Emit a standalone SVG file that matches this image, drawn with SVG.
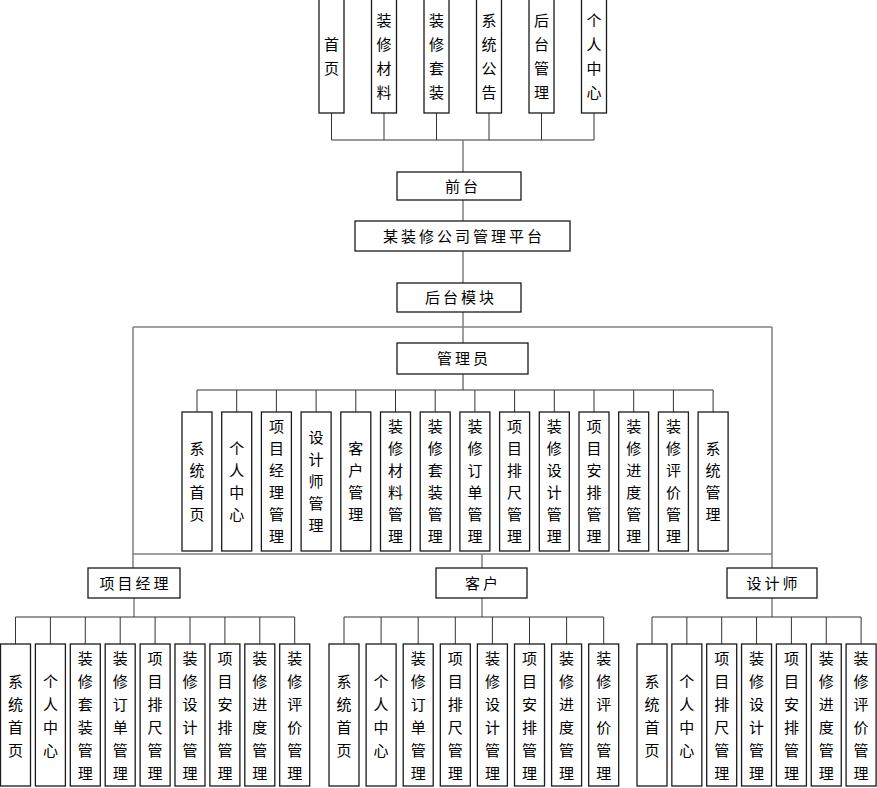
<svg xmlns="http://www.w3.org/2000/svg" width="877" height="788" viewBox="0 0 877 788">
<style>
.box{fill:#fff;stroke:#1a1a1a;stroke-width:1.3}
.t{font-family:"Noto Sans CJK SC","Noto Sans",sans-serif;font-size:15px;fill:#000;text-anchor:middle}
.h{letter-spacing:3px}
.ln{stroke:#333;fill:none;stroke-width:1}
.tr{stroke:#808080;fill:none;stroke-width:1.5}
</style>
<rect width="877" height="788" fill="#fff"/>
<g id="connectors">
<path class="ln" d="M331.5 113V140M384 113V140M436.5 113V140M489 113V140M541.5 113V140M594 113V140M331.5 140H594"/>
<path class="tr" d="M463 140V172M463 200V221M463 251V283M463 312V327M463 327V343"/>
<path class="tr" d="M133 327H772M133 327V568M772 327V568M133 554H772M482 554V568"/>
<path class="ln" d="M463 374V390M197 390H713.1M197 390V412M236.7 390V412M276.4 390V412M316.1 390V412M355.8 390V412M395.5 390V412M435.2 390V412M474.9 390V412M514.6 390V412M554.3 390V412M594 390V412M633.7 390V412M673.4 390V412M713.1 390V412"/>
<path class="tr" d="M134 598V617M482 598V617M772 598V617"/>
<path class="ln" d="M15.5 617H294.7M15.5 617V644M50.4 617V644M85.3 617V644M120.2 617V644M155.1 617V644M190 617V644M224.9 617V644M259.8 617V644M294.7 617V644"/>
<path class="ln" d="M344 617H603.7M344 617V644M381.1 617V644M418.2 617V644M455.3 617V644M492.4 617V644M529.5 617V644M566.6 617V644M603.7 617V644"/>
<path class="ln" d="M652 617H861.1M652 617V644M686.85 617V644M721.7 617V644M756.55 617V644M791.4 617V644M826.25 617V644M861.1 617V644"/>
</g>

<g id="top-shouye"><rect class="box" x="319" y="-1" width="25" height="114"/><text class="t" x="331.5" y="50"><tspan x="331.5">首</tspan><tspan x="331.5" dy="24">页</tspan></text></g>
<g id="top-cailiao"><rect class="box" x="371.5" y="-1" width="25" height="114"/><text class="t" x="384" y="26"><tspan x="384">装</tspan><tspan x="384" dy="24">修</tspan><tspan x="384" dy="24">材</tspan><tspan x="384" dy="24">料</tspan></text></g>
<g id="top-taozhuang"><rect class="box" x="424" y="-1" width="25" height="114"/><text class="t" x="436.5" y="26"><tspan x="436.5">装</tspan><tspan x="436.5" dy="24">修</tspan><tspan x="436.5" dy="24">套</tspan><tspan x="436.5" dy="24">装</tspan></text></g>
<g id="top-gonggao"><rect class="box" x="476.5" y="-1" width="25" height="114"/><text class="t" x="489" y="26"><tspan x="489">系</tspan><tspan x="489" dy="24">统</tspan><tspan x="489" dy="24">公</tspan><tspan x="489" dy="24">告</tspan></text></g>
<g id="top-houtai"><rect class="box" x="529" y="-1" width="25" height="114"/><text class="t" x="541.5" y="26"><tspan x="541.5">后</tspan><tspan x="541.5" dy="24">台</tspan><tspan x="541.5" dy="24">管</tspan><tspan x="541.5" dy="24">理</tspan></text></g>
<g id="top-geren"><rect class="box" x="581.5" y="-1" width="25" height="114"/><text class="t" x="594" y="26"><tspan x="594">个</tspan><tspan x="594" dy="24">人</tspan><tspan x="594" dy="24">中</tspan><tspan x="594" dy="24">心</tspan></text></g>

<g id="qiantai"><rect class="box" x="397" y="172" width="124" height="28"/><text class="t h" x="463" y="191.5">前台</text></g>
<g id="platform"><rect class="box" x="355" y="221" width="215" height="30"/><text class="t h" x="464" y="241.5">某装修公司管理平台</text></g>
<g id="houtaimokuai"><rect class="box" x="397" y="283" width="124" height="29"/><text class="t h" x="461" y="303">后台模块</text></g>
<g id="admin"><rect class="box" x="397" y="343" width="131" height="31"/><text class="t h" x="464" y="364">管理员</text></g>

<g id="a1"><rect class="box" x="182" y="412" width="30" height="139"/><text class="t" y="454"><tspan x="197">系</tspan><tspan x="197" dy="22">统</tspan><tspan x="197" dy="22">首</tspan><tspan x="197" dy="22">页</tspan></text></g>
<g id="a2"><rect class="box" x="221.7" y="412" width="30" height="139"/><text class="t" y="454"><tspan x="236.7">个</tspan><tspan x="236.7" dy="22">人</tspan><tspan x="236.7" dy="22">中</tspan><tspan x="236.7" dy="22">心</tspan></text></g>
<g id="a3"><rect class="box" x="261.4" y="412" width="30" height="139"/><text class="t" y="432"><tspan x="276.4">项</tspan><tspan x="276.4" dy="22">目</tspan><tspan x="276.4" dy="22">经</tspan><tspan x="276.4" dy="22">理</tspan><tspan x="276.4" dy="22">管</tspan><tspan x="276.4" dy="22">理</tspan></text></g>
<g id="a4"><rect class="box" x="301.1" y="412" width="30" height="139"/><text class="t" y="443"><tspan x="316.1">设</tspan><tspan x="316.1" dy="22">计</tspan><tspan x="316.1" dy="22">师</tspan><tspan x="316.1" dy="22">管</tspan><tspan x="316.1" dy="22">理</tspan></text></g>
<g id="a5"><rect class="box" x="340.8" y="412" width="30" height="139"/><text class="t" y="454"><tspan x="355.8">客</tspan><tspan x="355.8" dy="22">户</tspan><tspan x="355.8" dy="22">管</tspan><tspan x="355.8" dy="22">理</tspan></text></g>
<g id="a6"><rect class="box" x="380.5" y="412" width="30" height="139"/><text class="t" y="432"><tspan x="395.5">装</tspan><tspan x="395.5" dy="22">修</tspan><tspan x="395.5" dy="22">材</tspan><tspan x="395.5" dy="22">料</tspan><tspan x="395.5" dy="22">管</tspan><tspan x="395.5" dy="22">理</tspan></text></g>
<g id="a7"><rect class="box" x="420.2" y="412" width="30" height="139"/><text class="t" y="432"><tspan x="435.2">装</tspan><tspan x="435.2" dy="22">修</tspan><tspan x="435.2" dy="22">套</tspan><tspan x="435.2" dy="22">装</tspan><tspan x="435.2" dy="22">管</tspan><tspan x="435.2" dy="22">理</tspan></text></g>
<g id="a8"><rect class="box" x="459.9" y="412" width="30" height="139"/><text class="t" y="432"><tspan x="474.9">装</tspan><tspan x="474.9" dy="22">修</tspan><tspan x="474.9" dy="22">订</tspan><tspan x="474.9" dy="22">单</tspan><tspan x="474.9" dy="22">管</tspan><tspan x="474.9" dy="22">理</tspan></text></g>
<g id="a9"><rect class="box" x="499.6" y="412" width="30" height="139"/><text class="t" y="432"><tspan x="514.6">项</tspan><tspan x="514.6" dy="22">目</tspan><tspan x="514.6" dy="22">排</tspan><tspan x="514.6" dy="22">尺</tspan><tspan x="514.6" dy="22">管</tspan><tspan x="514.6" dy="22">理</tspan></text></g>
<g id="a10"><rect class="box" x="539.3" y="412" width="30" height="139"/><text class="t" y="432"><tspan x="554.3">装</tspan><tspan x="554.3" dy="22">修</tspan><tspan x="554.3" dy="22">设</tspan><tspan x="554.3" dy="22">计</tspan><tspan x="554.3" dy="22">管</tspan><tspan x="554.3" dy="22">理</tspan></text></g>
<g id="a11"><rect class="box" x="579" y="412" width="30" height="139"/><text class="t" y="432"><tspan x="594">项</tspan><tspan x="594" dy="22">目</tspan><tspan x="594" dy="22">安</tspan><tspan x="594" dy="22">排</tspan><tspan x="594" dy="22">管</tspan><tspan x="594" dy="22">理</tspan></text></g>
<g id="a12"><rect class="box" x="618.7" y="412" width="30" height="139"/><text class="t" y="432"><tspan x="633.7">装</tspan><tspan x="633.7" dy="22">修</tspan><tspan x="633.7" dy="22">进</tspan><tspan x="633.7" dy="22">度</tspan><tspan x="633.7" dy="22">管</tspan><tspan x="633.7" dy="22">理</tspan></text></g>
<g id="a13"><rect class="box" x="658.4" y="412" width="30" height="139"/><text class="t" y="432"><tspan x="673.4">装</tspan><tspan x="673.4" dy="22">修</tspan><tspan x="673.4" dy="22">评</tspan><tspan x="673.4" dy="22">价</tspan><tspan x="673.4" dy="22">管</tspan><tspan x="673.4" dy="22">理</tspan></text></g>
<g id="a14"><rect class="box" x="698.1" y="412" width="30" height="139"/><text class="t" y="454"><tspan x="713.1">系</tspan><tspan x="713.1" dy="22">统</tspan><tspan x="713.1" dy="22">管</tspan><tspan x="713.1" dy="22">理</tspan></text></g>

<g id="pm"><rect class="box" x="88" y="568" width="92" height="30"/><text class="t h" x="135.5" y="588.5">项目经理</text></g>
<g id="kehu"><rect class="box" x="436" y="568" width="91" height="30"/><text class="t h" x="483" y="588.5">客户</text></g>
<g id="designer"><rect class="box" x="727" y="568" width="90" height="30"/><text class="t h" x="773.5" y="588.5">设计师</text></g>

<g id="p1"><rect class="box" x="0.5" y="644" width="30" height="142"/><text class="t" y="686.5"><tspan x="15.5">系</tspan><tspan x="15.5" dy="23">统</tspan><tspan x="15.5" dy="23">首</tspan><tspan x="15.5" dy="23">页</tspan></text></g>
<g id="p2"><rect class="box" x="35.4" y="644" width="30" height="142"/><text class="t" y="686.5"><tspan x="50.4">个</tspan><tspan x="50.4" dy="23">人</tspan><tspan x="50.4" dy="23">中</tspan><tspan x="50.4" dy="23">心</tspan></text></g>
<g id="p3"><rect class="box" x="70.3" y="644" width="30" height="142"/><text class="t" y="663.5"><tspan x="85.3">装</tspan><tspan x="85.3" dy="23">修</tspan><tspan x="85.3" dy="23">套</tspan><tspan x="85.3" dy="23">装</tspan><tspan x="85.3" dy="23">管</tspan><tspan x="85.3" dy="23">理</tspan></text></g>
<g id="p4"><rect class="box" x="105.2" y="644" width="30" height="142"/><text class="t" y="663.5"><tspan x="120.2">装</tspan><tspan x="120.2" dy="23">修</tspan><tspan x="120.2" dy="23">订</tspan><tspan x="120.2" dy="23">单</tspan><tspan x="120.2" dy="23">管</tspan><tspan x="120.2" dy="23">理</tspan></text></g>
<g id="p5"><rect class="box" x="140.1" y="644" width="30" height="142"/><text class="t" y="663.5"><tspan x="155.1">项</tspan><tspan x="155.1" dy="23">目</tspan><tspan x="155.1" dy="23">排</tspan><tspan x="155.1" dy="23">尺</tspan><tspan x="155.1" dy="23">管</tspan><tspan x="155.1" dy="23">理</tspan></text></g>
<g id="p6"><rect class="box" x="175" y="644" width="30" height="142"/><text class="t" y="663.5"><tspan x="190">装</tspan><tspan x="190" dy="23">修</tspan><tspan x="190" dy="23">设</tspan><tspan x="190" dy="23">计</tspan><tspan x="190" dy="23">管</tspan><tspan x="190" dy="23">理</tspan></text></g>
<g id="p7"><rect class="box" x="209.9" y="644" width="30" height="142"/><text class="t" y="663.5"><tspan x="224.9">项</tspan><tspan x="224.9" dy="23">目</tspan><tspan x="224.9" dy="23">安</tspan><tspan x="224.9" dy="23">排</tspan><tspan x="224.9" dy="23">管</tspan><tspan x="224.9" dy="23">理</tspan></text></g>
<g id="p8"><rect class="box" x="244.8" y="644" width="30" height="142"/><text class="t" y="663.5"><tspan x="259.8">装</tspan><tspan x="259.8" dy="23">修</tspan><tspan x="259.8" dy="23">进</tspan><tspan x="259.8" dy="23">度</tspan><tspan x="259.8" dy="23">管</tspan><tspan x="259.8" dy="23">理</tspan></text></g>
<g id="p9"><rect class="box" x="279.7" y="644" width="30" height="142"/><text class="t" y="663.5"><tspan x="294.7">装</tspan><tspan x="294.7" dy="23">修</tspan><tspan x="294.7" dy="23">评</tspan><tspan x="294.7" dy="23">价</tspan><tspan x="294.7" dy="23">管</tspan><tspan x="294.7" dy="23">理</tspan></text></g>

<g id="c1"><rect class="box" x="329" y="644" width="30" height="142"/><text class="t" y="686.5"><tspan x="344">系</tspan><tspan x="344" dy="23">统</tspan><tspan x="344" dy="23">首</tspan><tspan x="344" dy="23">页</tspan></text></g>
<g id="c2"><rect class="box" x="366.1" y="644" width="30" height="142"/><text class="t" y="686.5"><tspan x="381.1">个</tspan><tspan x="381.1" dy="23">人</tspan><tspan x="381.1" dy="23">中</tspan><tspan x="381.1" dy="23">心</tspan></text></g>
<g id="c3"><rect class="box" x="403.2" y="644" width="30" height="142"/><text class="t" y="663.5"><tspan x="418.2">装</tspan><tspan x="418.2" dy="23">修</tspan><tspan x="418.2" dy="23">订</tspan><tspan x="418.2" dy="23">单</tspan><tspan x="418.2" dy="23">管</tspan><tspan x="418.2" dy="23">理</tspan></text></g>
<g id="c4"><rect class="box" x="440.3" y="644" width="30" height="142"/><text class="t" y="663.5"><tspan x="455.3">项</tspan><tspan x="455.3" dy="23">目</tspan><tspan x="455.3" dy="23">排</tspan><tspan x="455.3" dy="23">尺</tspan><tspan x="455.3" dy="23">管</tspan><tspan x="455.3" dy="23">理</tspan></text></g>
<g id="c5"><rect class="box" x="477.4" y="644" width="30" height="142"/><text class="t" y="663.5"><tspan x="492.4">装</tspan><tspan x="492.4" dy="23">修</tspan><tspan x="492.4" dy="23">设</tspan><tspan x="492.4" dy="23">计</tspan><tspan x="492.4" dy="23">管</tspan><tspan x="492.4" dy="23">理</tspan></text></g>
<g id="c6"><rect class="box" x="514.5" y="644" width="30" height="142"/><text class="t" y="663.5"><tspan x="529.5">项</tspan><tspan x="529.5" dy="23">目</tspan><tspan x="529.5" dy="23">安</tspan><tspan x="529.5" dy="23">排</tspan><tspan x="529.5" dy="23">管</tspan><tspan x="529.5" dy="23">理</tspan></text></g>
<g id="c7"><rect class="box" x="551.6" y="644" width="30" height="142"/><text class="t" y="663.5"><tspan x="566.6">装</tspan><tspan x="566.6" dy="23">修</tspan><tspan x="566.6" dy="23">进</tspan><tspan x="566.6" dy="23">度</tspan><tspan x="566.6" dy="23">管</tspan><tspan x="566.6" dy="23">理</tspan></text></g>
<g id="c8"><rect class="box" x="588.7" y="644" width="30" height="142"/><text class="t" y="663.5"><tspan x="603.7">装</tspan><tspan x="603.7" dy="23">修</tspan><tspan x="603.7" dy="23">评</tspan><tspan x="603.7" dy="23">价</tspan><tspan x="603.7" dy="23">管</tspan><tspan x="603.7" dy="23">理</tspan></text></g>

<g id="d1"><rect class="box" x="637" y="644" width="30" height="142"/><text class="t" y="686.5"><tspan x="652">系</tspan><tspan x="652" dy="23">统</tspan><tspan x="652" dy="23">首</tspan><tspan x="652" dy="23">页</tspan></text></g>
<g id="d2"><rect class="box" x="671.85" y="644" width="30" height="142"/><text class="t" y="686.5"><tspan x="686.85">个</tspan><tspan x="686.85" dy="23">人</tspan><tspan x="686.85" dy="23">中</tspan><tspan x="686.85" dy="23">心</tspan></text></g>
<g id="d3"><rect class="box" x="706.7" y="644" width="30" height="142"/><text class="t" y="663.5"><tspan x="721.7">项</tspan><tspan x="721.7" dy="23">目</tspan><tspan x="721.7" dy="23">排</tspan><tspan x="721.7" dy="23">尺</tspan><tspan x="721.7" dy="23">管</tspan><tspan x="721.7" dy="23">理</tspan></text></g>
<g id="d4"><rect class="box" x="741.55" y="644" width="30" height="142"/><text class="t" y="663.5"><tspan x="756.55">装</tspan><tspan x="756.55" dy="23">修</tspan><tspan x="756.55" dy="23">设</tspan><tspan x="756.55" dy="23">计</tspan><tspan x="756.55" dy="23">管</tspan><tspan x="756.55" dy="23">理</tspan></text></g>
<g id="d5"><rect class="box" x="776.4" y="644" width="30" height="142"/><text class="t" y="663.5"><tspan x="791.4">项</tspan><tspan x="791.4" dy="23">目</tspan><tspan x="791.4" dy="23">安</tspan><tspan x="791.4" dy="23">排</tspan><tspan x="791.4" dy="23">管</tspan><tspan x="791.4" dy="23">理</tspan></text></g>
<g id="d6"><rect class="box" x="811.25" y="644" width="30" height="142"/><text class="t" y="663.5"><tspan x="826.25">装</tspan><tspan x="826.25" dy="23">修</tspan><tspan x="826.25" dy="23">进</tspan><tspan x="826.25" dy="23">度</tspan><tspan x="826.25" dy="23">管</tspan><tspan x="826.25" dy="23">理</tspan></text></g>
<g id="d7"><rect class="box" x="846.1" y="644" width="30" height="142"/><text class="t" y="663.5"><tspan x="861.1">装</tspan><tspan x="861.1" dy="23">修</tspan><tspan x="861.1" dy="23">评</tspan><tspan x="861.1" dy="23">价</tspan><tspan x="861.1" dy="23">管</tspan><tspan x="861.1" dy="23">理</tspan></text></g>
</svg>
